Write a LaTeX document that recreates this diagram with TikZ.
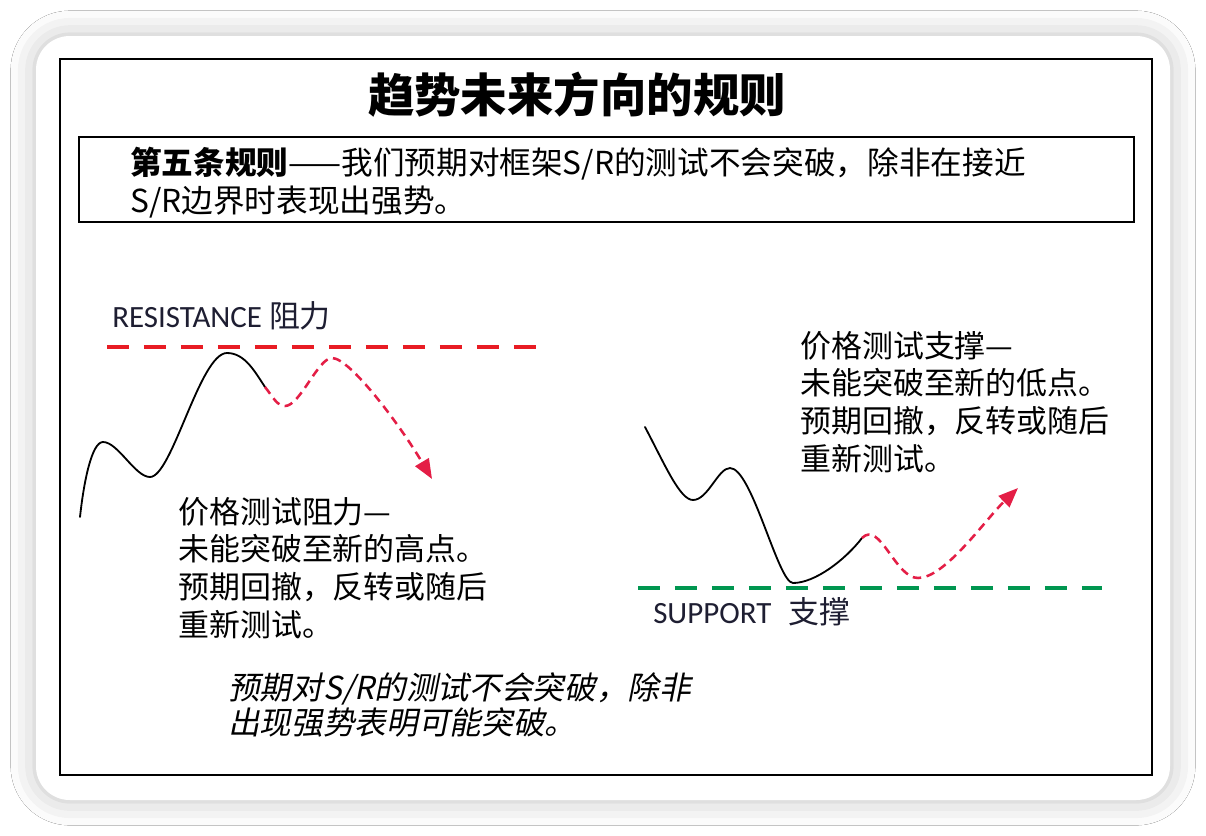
\documentclass[tikz,border=0pt]{standalone}
\usepackage{fontspec}
\usetikzlibrary{arrows.meta,shadows.blur}
\newfontfamily\cjk{Noto Sans CJK SC}
\newfontfamily\cjkslant[FakeSlant=0.2]{Noto Sans CJK SC}
\newfontfamily\labelfont{Carlito}
\definecolor{resred}{RGB}{232,28,36}
\definecolor{supgreen}{RGB}{0,150,80}
\definecolor{pathred}{RGB}{228,30,70}
\definecolor{labelink}{RGB}{30,30,50}

\begin{document}
\begin{tikzpicture}[x=0.025cm, y=-0.025cm,
    price/.style={line width=1.3pt, line cap=round},
    future/.style={pathred, line width=1.8pt, dash pattern=on 6pt off 4pt,
        -{Triangle[length=14pt,width=11pt]}},
    level/.style={line width=2.8pt, dash pattern=on 15.5pt off 10.8pt},
    note/.style={anchor=base west, inner sep=0pt, align=left,
        font=\cjk\fontsize{22}{26.7}\selectfont},
    levelname/.style={anchor=base west, inner sep=0pt, text=labelink,
        font=\labelfont\fontsize{22}{26}\selectfont}]
    \fill[white] (0,0) rectangle (1206,836);
    \useasboundingbox (0,0) rectangle (1206,836);
    % card and frame (base anchor of the notes = their last line)
    \fill[white, rounded corners=24pt, blur shadow={shadow xshift=0pt,
        shadow yshift=0pt, shadow blur radius=18pt, shadow opacity=25}]
        (36,36) rectangle (1170,800);
    \draw[line width=1.6pt] (60,59) rectangle (1152,775);
    \node (title) at (577,95)
        {\cjk\bfseries\fontsize{33}{40}\selectfont 趋势未来方向的规则};
    \draw[line width=1.5pt] (79,137) rectangle (1134,222);
    \node[note, font=\cjk\fontsize{22.5}{27}\selectfont] (ruletext) at (130,212)
        {{\bfseries 第五条规则}——我们预期对框架S/R的测试不会突破，除非在接近\\
         S/R边界时表现出强势。};
    % resistance side
    \draw[level, resred] (107,347) -- (540,347);
    \node[levelname] (reslabel) at (112,327) {RESISTANCE {\cjk 阻力}};
    \draw[price] (80,517) .. controls (84,480) and (92,442) .. (103,442)
        .. controls (118,442) and (135,477) .. (150,477)
        .. controls (172,477) and (200,353) .. (227,353)
        .. controls (245,353) and (255,372) .. (265,387) coordinate (topend);
    \draw[future] (topend) .. controls (273,397) and (277,406) .. (285,406)
        .. controls (300,406) and (318,358) .. (332,358)
        .. controls (350,358) and (400,425) .. (432,479);
    \node[note] (resnote) at (178,636)
        {价格测试阻力—\\未能突破至新的高点。\\预期回撤，反转或随后\\重新测试。};
    % support side
    \draw[level, supgreen] (638,588) -- (1102,588);
    \node[levelname] (suplabel) at (653,623) {SUPPORT\hspace{12pt}{\cjk 支撑}};
    \draw[price] (645,427) .. controls (665,465) and (680,500) .. (693,500)
        .. controls (708,500) and (718,468) .. (730,468)
        .. controls (752,468) and (778,583) .. (793,583)
        .. controls (815,583) and (845,560) .. (862,538) coordinate (botend);
    \draw[future] (botend) .. controls (880,520) and (895,578) .. (918,578)
        .. controls (945,578) and (985,520) .. (1018,488);
    \node[note] (supnote) at (800,470)
        {价格测试支撑—\\未能突破至新的低点。\\预期回撤，反转或随后\\重新测试。};
    \node[note, font=\cjkslant\fontsize{22.5}{24.5}\selectfont] (summary) at (228,734)
        {预期对S/R的测试不会突破，除非\\出现强势表明可能突破。};
\end{tikzpicture}
\end{document}
